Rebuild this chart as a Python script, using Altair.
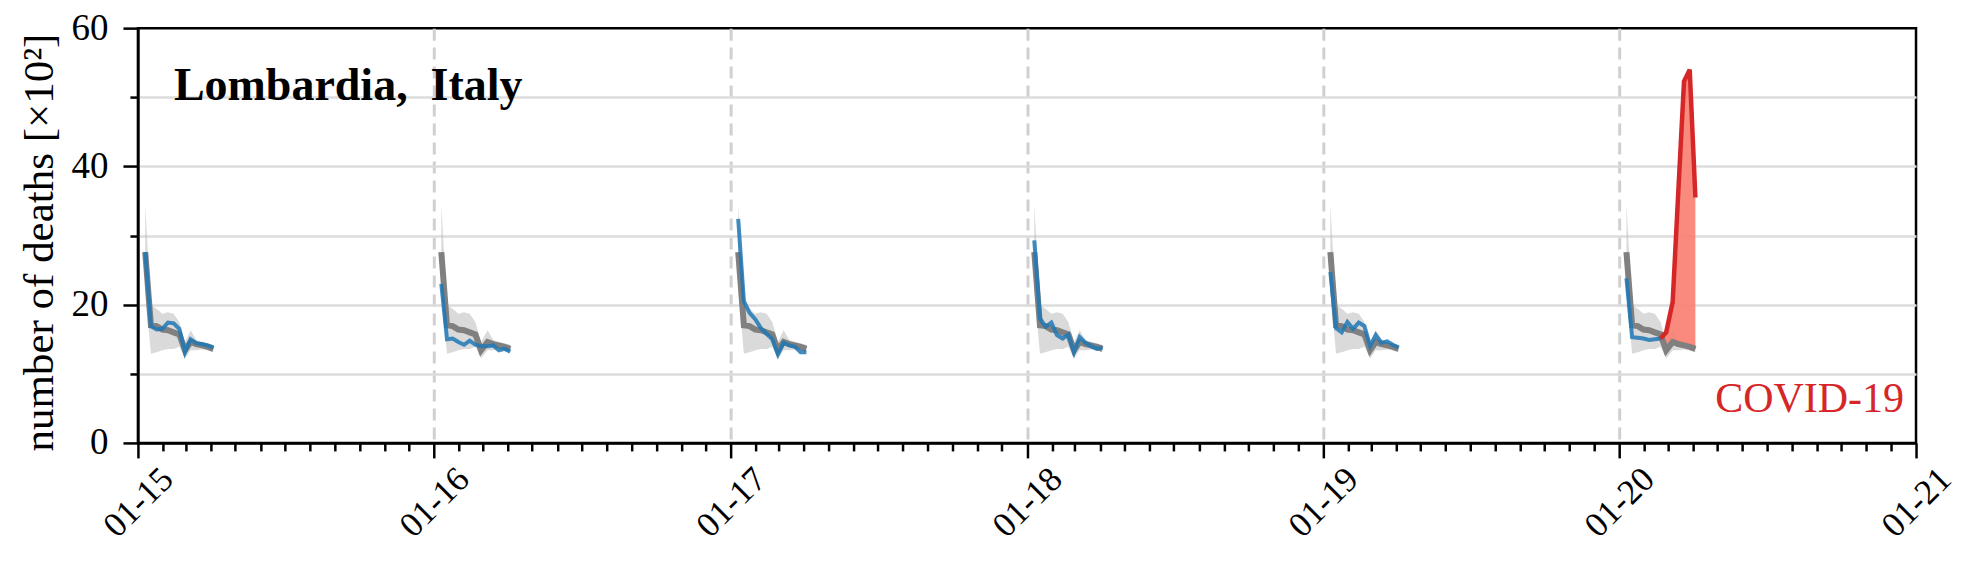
import altair as alt
import pandas as pd

# ---------------- data ----------------
YEARS = [2015, 2016, 2017, 2018, 2019, 2020]
WEEK_DAYS = ["01-10", "01-17", "01-24", "01-31", "02-07", "02-14", "02-21",
             "02-28", "03-07", "03-14", "03-21", "03-28", "04-04"]

# baseline (gray) – same in every year, in units of 100 deaths
BASE_MEAN = [27.6, 17.0, 16.9, 16.4, 16.3, 16.0, 15.7, 13.4, 14.6, 14.3, 14.1, 13.9, 13.6]
BASE_LOW = [22.0, 12.9, 13.1, 13.4, 13.6, 13.6, 13.9, 12.2, 13.4, 13.4, 13.5, 13.4, 13.1]
BASE_HIGH = [34.4, 19.9, 19.4, 18.7, 18.9, 18.7, 17.5, 14.6, 16.3, 14.9, 14.6, 14.4, 14.2]

# observed (blue)
OBS_2015 = [27.6, 16.9, 16.4, 16.5, 17.4, 17.3, 16.5, 13.1, 15.0, 14.4, 14.3, 14.1, 13.8]
OBS_2016 = [23.0, 15.0, 15.1, 14.6, 14.2, 14.8, 14.2, 14.0, 14.0, 14.1, 13.4, 13.6, 13.2]
OBS_2017 = [32.4, 20.5, 18.8, 17.9, 16.6, 15.8, 15.0, 12.8, 14.5, 14.1, 13.9, 13.1, 13.1]
OBS_2018 = [29.3, 18.0, 16.8, 17.4, 15.6, 15.1, 15.7, 13.1, 15.3, 14.5, 14.0, 13.6, 13.8]
OBS_2019 = [24.7, 16.6, 16.0, 17.5, 16.5, 17.4, 16.9, 14.0, 15.6, 14.5, 14.7, 14.2, 13.8]
OBS_2020 = [23.8, 15.3, 15.2, 15.1, 14.9, 15.0, 15.1]

# COVID-19 period (red), 2020, starting at week index 6
COVID_START = 6
COVID_2020 = [15.1, 16.0, 20.4, 36.5, 52.3, 54.0, 35.5]

TITLE_TEXT = "Lombardia,\u00a0\u00a0Italy"
COVID_TEXT = "COVID-19"
Y_TITLE = "number of deaths [×10²]"

# ---------------- tables ----------------
OBS = dict(zip(YEARS, [OBS_2015, OBS_2016, OBS_2017, OBS_2018, OBS_2019, OBS_2020]))

base_rows = []
for y in YEARS:
    for i, md in enumerate(WEEK_DAYS):
        base_rows.append({"date": f"{y}-{md}", "year": str(y),
                          "mean": BASE_MEAN[i], "low": BASE_LOW[i], "high": BASE_HIGH[i]})
base_df = pd.DataFrame(base_rows)

obs_rows = []
for y in YEARS:
    for i, v in enumerate(OBS[y]):
        obs_rows.append({"date": f"{y}-{WEEK_DAYS[i]}", "year": str(y), "deaths": v})
obs_df = pd.DataFrame(obs_rows)

covid_df = pd.DataFrame([
    {"date": f"2020-{WEEK_DAYS[COVID_START + k]}", "deaths": v,
     "base": BASE_MEAN[COVID_START + k]}
    for k, v in enumerate(COVID_2020)
])

# ---------------- axes ----------------
FONT = "Liberation Serif"
month_ticks = [alt.DateTime(year=y, month=m, date=1, utc=True)
               for y in range(2015, 2021) for m in range(1, 13)]
month_ticks.append(alt.DateTime(year=2021, month=1, date=1, utc=True))

x_axis = alt.Axis(
    values=month_ticks,
    labelExpr="utcmonth(datum.value) == 0 ? utcFormat(datum.value, '%m-%y') : ''",
    labelAngle=-45, labelAlign="center", labelBaseline="middle",
    labelPadding=44, labelFont=FONT, labelFontSize=35, labelColor="black",
    labelOverlap=False, labelFlush=False, labelBound=False,
    tickSize={"condition": {"test": "utcmonth(datum.value) == 0", "value": 15}, "value": 8},
    tickWidth=2.5, tickColor="black",
    domainColor="black", domainWidth=2.5,
    grid=True, gridDash=[12, 7], gridColor="#d0d0d0", gridWidth=3,
    gridOpacity={"condition": {
        "test": "utcmonth(datum.value) == 0 && utcyear(datum.value) > 2015 && utcyear(datum.value) < 2021",
        "value": 1}, "value": 0},
    title=None,
)

y_axis = alt.Axis(
    values=[0, 10, 20, 30, 40, 50, 60],
    labelExpr="datum.value % 20 === 0 ? datum.label : ''",
    labelFont=FONT, labelFontSize=37, labelColor="black", labelPadding=15,
    tickSize={"condition": {"test": "datum.value % 20 === 0", "value": 15}, "value": 8},
    tickWidth=2.5, tickColor="black",
    domainColor="black", domainWidth=2.5,
    grid=True, gridColor="#dcdcdc", gridWidth=2.5,
    gridOpacity={"condition": {"test": "datum.value > 0 && datum.value < 60", "value": 1},
                 "value": 0},
    title=Y_TITLE, titleFont=FONT, titleFontSize=43, titleFontWeight="normal",
    titleColor="black", titleAngle=-90, titleAlign="center", titleBaseline="middle",
    titleX=-98, titleY=214,
)

x_scale = alt.Scale(type="utc", domain=[alt.DateTime(year=2015, month=1, date=1, utc=True),
                                        alt.DateTime(year=2021, month=1, date=1, utc=True)])
y_scale = alt.Scale(domain=[0, 60], nice=False)


def X():
    return alt.X("date:T", scale=x_scale, axis=x_axis)


def Y(field):
    return alt.Y(field, scale=y_scale, axis=y_axis)


band = alt.Chart(base_df).mark_area(color="#bbbbbb", opacity=0.55).encode(
    x=X(), y=Y("low:Q"), y2="high:Q", detail="year:N")

covid_fill = alt.Chart(covid_df).mark_area(color="#fa8072", opacity=0.92).encode(
    x=X(), y=Y("deaths:Q"), y2="base:Q")

base_line = alt.Chart(base_df).mark_line(color="#808080", strokeWidth=6).encode(
    x=X(), y=Y("mean:Q"), detail="year:N")

obs_line = alt.Chart(obs_df).mark_line(color="#1f77b4", strokeWidth=4, opacity=0.85).encode(
    x=X(), y=Y("deaths:Q"), detail="year:N")

covid_line = alt.Chart(covid_df).mark_line(color="#d62728", strokeWidth=4.5).encode(
    x=X(), y=Y("deaths:Q"))

title_text = alt.Chart(pd.DataFrame({"label": [TITLE_TEXT]})).mark_text(
    font=FONT, fontSize=46, fontWeight="bold", align="left", baseline="alphabetic",
    color="black").encode(text="label:N", x=alt.value(36), y=alt.value(72))

covid_text = alt.Chart(pd.DataFrame({"label": [COVID_TEXT]})).mark_text(
    font=FONT, fontSize=42, align="right", baseline="alphabetic",
    color="#d62728").encode(text="label:N", x=alt.value(1767), y=alt.value(384))

chart = alt.layer(
    band, covid_fill, base_line, obs_line, covid_line, title_text, covid_text
).properties(
    width=1779, height=415,
    padding={"left": 130, "top": 20, "right": 50, "bottom": 125},
    autosize=alt.AutoSizeParams(type="none"),
).configure_view(stroke="black", strokeWidth=2.5)

chart.save("out.html", embed_options={"renderer": "svg", "actions": False})
